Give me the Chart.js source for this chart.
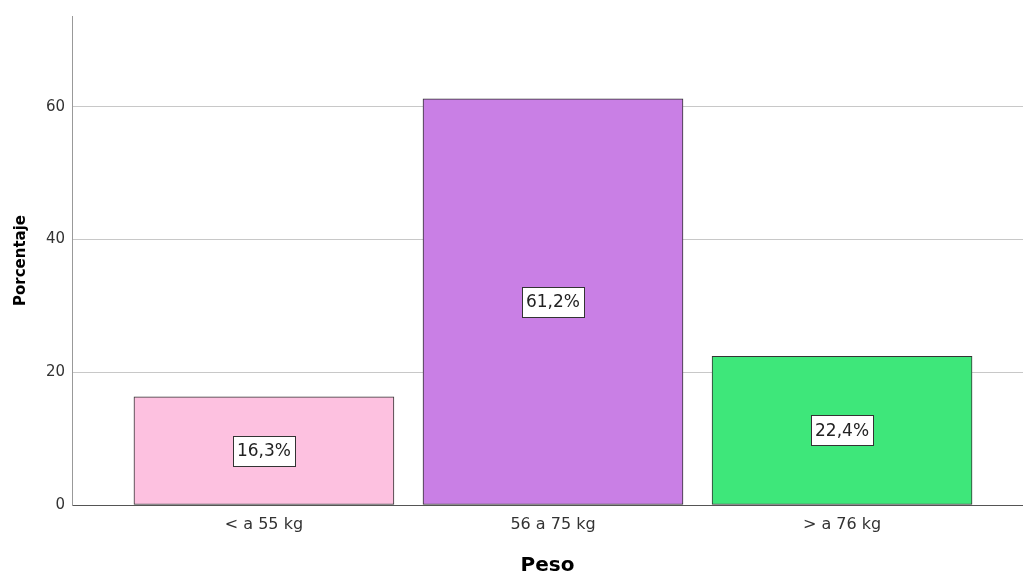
<!DOCTYPE html>
<html>
<head>
<meta charset="utf-8">
<script src="https://cdn.jsdelivr.net/npm/chart.js@4.4.1/dist/chart.umd.min.js"></script>
<style>
  html, body { margin: 0; padding: 0; background: #fff; }
</style>
</head>
<body>
<canvas id="myChart" width="1023" height="578"></canvas>
<script>
// data
var categories = ['< a 55 kg', '56 a 75 kg', '> a 76 kg'];
var porcentajes = [16.3, 61.2, 22.4];
var etiquetas = ['16,3%', '61,2%', '22,4%'];
var yTicks = [0, 20, 40, 60];
var colores = ['#fdc1e0', '#c97fe5', '#3ee77a'];

var FONT = "'DejaVu Sans', Arial, sans-serif";

// white boxes with the percent in the middle of each bar
var boxLabels = {
  id: 'boxLabels',
  afterDatasetsDraw: function(chart) {
    var ctx = chart.ctx;
    var meta = chart.getDatasetMeta(0);
    ctx.save();
    ctx.font = '17px ' + FONT;
    ctx.textAlign = 'center';
    ctx.textBaseline = 'middle';
    meta.data.forEach(function(bar, i) {
      var txt = etiquetas[i];
      var cx = bar.x;
      var cy = (bar.y + bar.base) / 2;
      var w = Math.round(ctx.measureText(txt).width) + 8;
      var h = 30;
      var x0 = Math.round(cx - w / 2) + 0.5;
      var y0 = Math.round(cy - h / 2) + 0.5;
      ctx.fillStyle = '#fff';
      ctx.fillRect(x0, y0, w, h);
      ctx.strokeStyle = '#333';
      ctx.lineWidth = 1;
      ctx.strokeRect(x0, y0, w, h);
      ctx.fillStyle = '#222';
      ctx.fillText(txt, cx, cy + 1);
    });
    ctx.restore();
  }
};

var ctx = document.getElementById('myChart').getContext('2d');
var myChart = new Chart(ctx, {
  type: 'bar',
  data: {
    datasets: [{
      data: porcentajes.map(function(v, i) { return { x: i, y: v }; }),
      backgroundColor: colores,
      borderColor: '#333',
      borderWidth: 1,
      borderSkipped: false,
      barThickness: 260
    }]
  },
  options: {
    responsive: false,
    animation: false,
    layout: { padding: { top: 15, right: 0, left: 0, bottom: 0 } },
    plugins: {
      legend: { display: false },
      tooltip: { enabled: false }
    },
    scales: {
      x: {
        type: 'linear',
        min: -0.664,
        max: 2.626,
        offset: false,
        afterBuildTicks: function(scale) {
          scale.ticks = categories.map(function(c, i) { return { value: i }; });
        },
        afterFit: function(scale) { scale.height = 73; },
        grid: { color: 'transparent', drawTicks: false },
        border: { color: '#555', width: 1 },
        ticks: {
          padding: 10,
          color: '#333',
          font: { family: FONT, size: 16 },
          callback: function(v) { return categories[v]; }
        },
        title: {
          display: true,
          text: 'Peso',
          color: '#000',
          font: { family: FONT, size: 20, weight: 'bold' },
          padding: { top: 0, bottom: 0 }
        }
      },
      y: {
        min: 0,
        max: 73.7,
        afterBuildTicks: function(scale) {
          scale.ticks = yTicks.map(function(v) { return { value: v }; });
        },
        afterFit: function(scale) { scale.width = 72; },
        grid: {
          drawTicks: false,
          color: function(c) { return c.tick && c.tick.value === 0 ? 'transparent' : '#c8c8c8'; }
        },
        border: { color: '#999', width: 1 },
        ticks: {
          padding: 7,
          color: '#333',
          font: { family: FONT, size: 15 }
        },
        title: {
          display: true,
          text: 'Porcentaje',
          color: '#000',
          font: { family: FONT, size: 15, weight: 'bold' },
          padding: { top: 12, bottom: 0 }
        }
      }
    }
  },
  plugins: [boxLabels]
});
</script>
</body>
</html>
